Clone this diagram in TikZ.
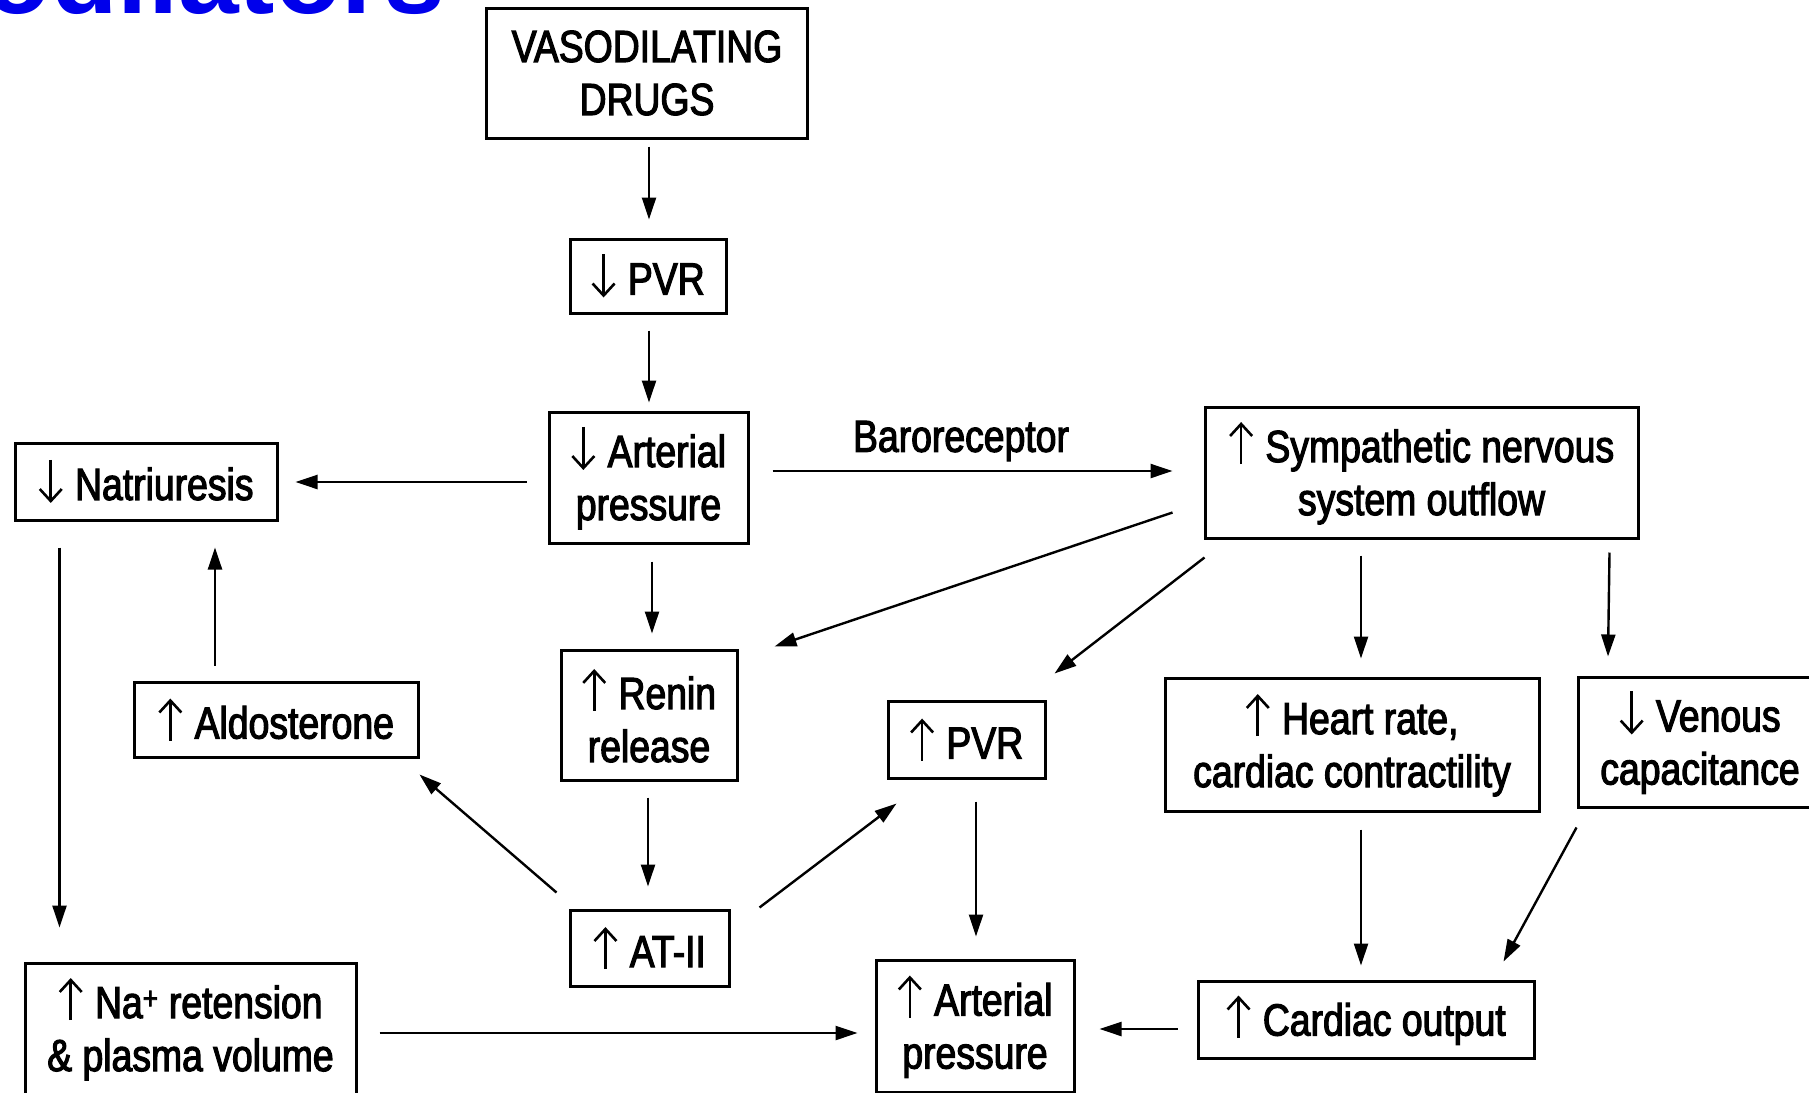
\documentclass[tikz,border=0pt]{standalone}
\usepackage{fontspec}
\setmainfont{Liberation Sans}[FakeStretch=0.83, FakeBold=2.5]
\newfontfamily\titlefont{Liberation Sans}
\usetikzlibrary{arrows.meta,calc}
\definecolor{titleblue}{RGB}{0,0,235}
\newcommand{\upar}{\tikz[baseline=0pt,x=1pt,y=1pt]\draw[line width=2.6pt,-{Straight Barb[length=12pt,width=22pt]}] (0,-2) -- (0,40);\hspace{12pt}}
\newcommand{\dnar}{\tikz[baseline=0pt,x=1pt,y=1pt]\draw[line width=2.6pt,-{Straight Barb[length=12pt,width=22pt]}] (0,40) -- (0,-3);\hspace{12pt}}
\begin{document}
\begin{tikzpicture}[x=1pt,y=-1pt,
  box/.style={draw, line width=3pt, inner sep=0pt, align=center,
    font=\fontsize{45}{53}\selectfont},
  arr/.style={-{Triangle[length=22pt,width=14pt]}, line width=2.4pt},
  lbl/.style={font=\fontsize{45}{53}\selectfont, inner sep=0pt}]
\useasboundingbox (0,0) rectangle (1809,1092);
\begin{scope}
\clip (0,0) rectangle (1809,1092);
\node[anchor=base east, inner sep=0pt, text=titleblue,
  font=\titlefont\bfseries\fontsize{109}{120}\selectfont] (title) at (445,13) {Vasodilators};
% boxes
\node[box, minimum width=321pt, minimum height=130pt] (drugs) at (647,73) {VASODILATING\\DRUGS};
\node[box, minimum width=156pt, minimum height=74pt] (pvrA) at (648,276) {\dnar PVR};
\node[box, minimum width=199pt, minimum height=131pt] (artA) at (648.5,477.5) {\dnar Arterial\\pressure};
\node[box, minimum width=262pt, minimum height=77pt] (natr) at (146,481.5) {\dnar Natriuresis};
\node[box, minimum width=433pt, minimum height=131pt] (symp) at (1421.5,472.5) {\upar Sympathetic nervous\\system outflow};
\node[box, minimum width=176pt, minimum height=130pt] (renin) at (649,715) {\upar Renin\\release};
\node[box, minimum width=284pt, minimum height=75pt] (aldo) at (276,719.5) {\upar Aldosterone};
\node[box, minimum width=157pt, minimum height=77pt] (pvrB) at (966.5,739.5) {\upar PVR};
\node[box, minimum width=374pt, minimum height=133pt] (heart) at (1352,744.5) {\upar Heart rate,\\cardiac contractility};
\node[box, minimum width=244pt, minimum height=130pt] (venous) at (1700,742) {\dnar Venous\\capacitance};
\node[box, minimum width=159pt, minimum height=76pt] (at2) at (649.5,948) {\upar AT-II};
\node[box, minimum width=331pt, minimum height=131pt] (na) at (190.5,1028.5) {\upar Na\textsuperscript{+} retension\\\& plasma volume};
\node[box, minimum width=198pt, minimum height=132pt] (artB) at (975,1026) {\upar Arterial\\pressure};
\node[box, minimum width=336pt, minimum height=77pt] (co) at (1366,1019.5) {\upar Cardiac output};
\node[lbl] (baro) at (961,441) {Baroreceptor};
% connectors
\draw[arr] ($(drugs.south)+(2,7)$) -- ($(pvrA.north)+(1,-18)$);
\draw[arr] ($(pvrA.south)+(1,16)$) -- ($(artA.north)+(0.5,-8)$);
\draw[arr] ($(artA.west)+(-21,4.5)$) -- ($(natr.east)+(17,0.5)$);
\draw[arr] ($(artA.east)+(23,-6.5)$) -- ($(symp.west)+(-31,-1.5)$);
\draw[arr] ($(artA.south)+(3.5,17)$) -- ($(renin.north)+(3,-15)$);
\draw[arr] ($(symp.south west)+(-31,-27)$) -- ($(renin.north east)+(36,-2)$);
\draw[arr] ($(symp.south west)+(1,18)$) -- ($(pvrB.north east)+(8,-26)$);
\draw[arr] ($(symp.south)+(-60.5,16)$) -- ($(heart.north)+(9,-18)$);
\draw[arr] ($(symp.south east)+(-30,13)$) -- ($(venous.north)+(-92,-19)$);
\draw[arr] ($(renin.south)+(-1,16)$) -- ($(at2.north)+(-1.5,-22)$);
\draw[arr] ($(at2.north west)+(-12,-16)$) -- ($(aldo.south east)+(0,16)$);
\draw[arr] ($(at2.north east)+(29,-1)$) -- ($(pvrB.south west)+(10,24)$);
\draw[arr] ($(aldo.north)+(-61,-15)$) -- ($(natr.south)+(69,26)$);
\draw[arr] ($(natr.south west)+(46,26)$) -- ($(na.north west)+(36,-34)$);
\draw[arr] ($(pvrB.south)+(9.5,22)$) -- ($(artB.north)+(1,-22)$);
\draw[arr] ($(heart.south)+(9,17)$) -- ($(co.north)+(-5,-14)$);
\draw[arr] ($(venous.south west)+(0,19)$) -- ($(co.north east)+(-32,-18)$);
\draw[arr] ($(na.east)+(22,4.5)$) -- ($(artB.west)+(-17,7)$);
\draw[arr] ($(co.west)+(-19,9.5)$) -- ($(artB.east)+(24,3)$);
\end{scope}
\end{tikzpicture}
\end{document}
